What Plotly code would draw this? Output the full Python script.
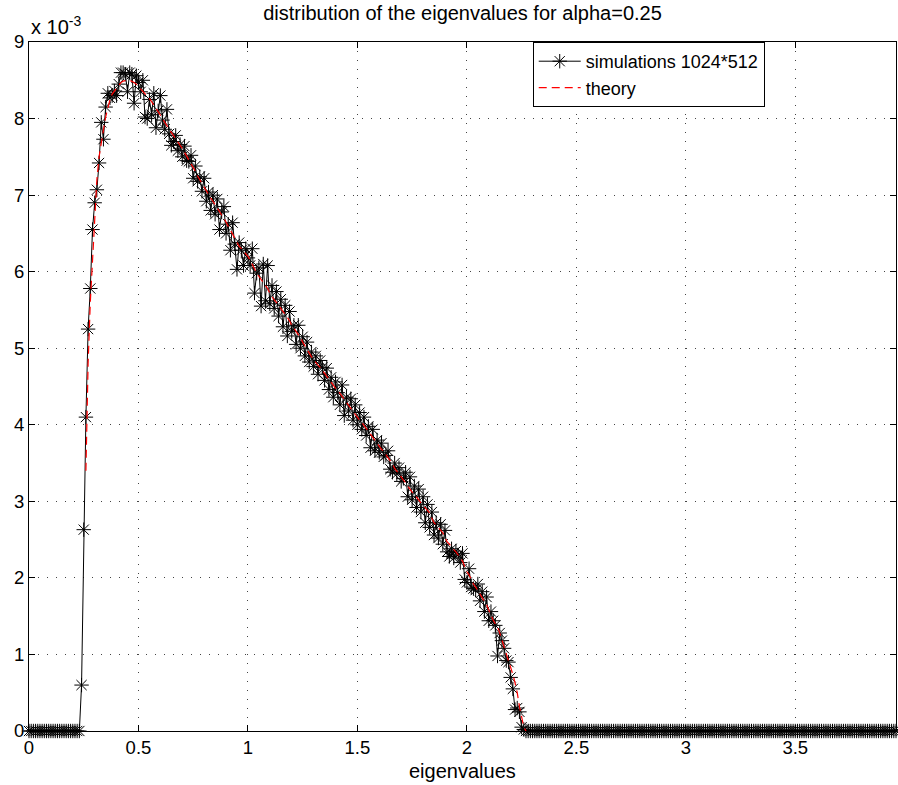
import plotly.graph_objects as go

# ---- data (density values in units of 1e-3) ----
bin_width = 0.01
n_bins = 397                     # bins 0.00 .. 3.96
x_bins = [round(i * bin_width, 2) for i in range(n_bins)]

sim_zeros_left = [0.0] * 24      # 0.00 .. 0.23
sim_support = [                  # 0.24 .. 2.26
    0.6, 2.63, 4.1, 5.25, 5.78, 6.55, 6.9, 7.07, 7.42, 7.95,
    7.73, 8.15, 8.33, 8.27, 8.3, 8.36, 8.3, 8.45, 8.6, 8.6,
    8.58, 8.35, 8.6, 8.58, 8.2, 8.56, 8.47, 8.35, 8.5, 8.02,
    8.0, 8.25, 8.05, 8.33, 7.88, 8.1, 8.3, 7.98, 7.86, 8.12,
    7.8, 7.65, 7.7, 7.78, 7.58, 7.66, 7.5, 7.64, 7.45, 7.44,
    7.52, 7.22, 7.38, 7.18, 7.24, 7.05, 7.22, 6.92, 7.04, 6.8,
    7.0, 6.75, 6.95, 6.55, 6.78, 6.85, 6.5, 6.62, 6.28, 6.64,
    6.36, 6.03, 6.38, 6.28, 6.08, 6.3, 6.18, 6.08, 6.3, 5.72,
    5.98, 6.05, 5.55, 6.1, 5.62, 6.08, 5.58, 5.82, 5.52, 5.74,
    5.42, 5.64, 5.28, 5.56, 5.16, 5.48, 5.22, 5.3, 5.05, 5.3,
    5.0, 5.15, 4.9, 5.08, 4.82, 4.95, 4.76, 4.9, 4.66, 4.84,
    4.75, 4.58, 4.74, 4.46, 4.62, 4.36, 4.56, 4.42, 4.26, 4.52,
    4.12, 4.36, 4.18, 4.34, 4.06, 4.26, 4.0, 4.16, 3.94, 4.1,
    3.86, 3.98, 3.7, 3.94, 3.66, 3.8, 3.64, 3.76, 3.58, 3.6,
    3.66, 3.42, 3.38, 3.5, 3.36, 3.44, 3.26, 3.3, 3.38, 3.06,
    3.32, 3.02, 3.2, 2.92, 3.16, 2.86, 3.06, 2.72, 2.96, 2.66,
    2.86, 2.56, 2.72, 2.52, 2.7, 2.44, 2.62, 2.34, 2.28, 2.38,
    2.26, 2.35, 2.3, 2.2, 2.32, 1.98, 1.94, 2.12, 1.88, 1.86,
    1.84, 1.92, 1.7, 1.82, 1.56, 1.75, 1.44, 1.56, 1.44, 1.38,
    0.98, 1.28, 1.18, 1.08, 0.92, 0.9, 0.7, 0.55, 0.28, 0.3,
    0.25, 0.05, 0.02,
]
sim_zeros_right = [0.0] * 170    # 2.27 .. 3.96
sim_values = sim_zeros_left + sim_support + sim_zeros_right

theory_start_bin = 26            # theory drawn from 0.26 .. 2.27
theory_values = [
    3.4, 4.8, 5.6, 6.2, 6.75, 7.2, 7.5, 7.65, 7.85, 8.02,
    8.15, 8.25, 8.32, 8.36, 8.4, 8.44, 8.47, 8.49, 8.5, 8.5,
    8.5, 8.49, 8.47, 8.45, 8.42, 8.39, 8.36, 8.33, 8.3, 8.26,
    8.22, 8.17, 8.13, 8.09, 8.04, 8.0, 7.95, 7.91, 7.86, 7.82,
    7.78, 7.74, 7.69, 7.65, 7.61, 7.56, 7.51, 7.46, 7.41, 7.37,
    7.31, 7.25, 7.2, 7.15, 7.1, 7.05, 7.0, 6.96, 6.92, 6.87,
    6.83, 6.78, 6.74, 6.7, 6.64, 6.58, 6.54, 6.49, 6.44, 6.38,
    6.33, 6.3, 6.27, 6.24, 6.2, 6.15, 6.09, 6.04, 5.98, 5.94,
    5.9, 5.86, 5.82, 5.78, 5.72, 5.67, 5.63, 5.6, 5.56, 5.53,
    5.49, 5.45, 5.41, 5.36, 5.3, 5.26, 5.22, 5.18, 5.14, 5.08,
    5.03, 4.98, 4.93, 4.89, 4.85, 4.81, 4.78, 4.75, 4.71, 4.67,
    4.63, 4.59, 4.55, 4.51, 4.48, 4.44, 4.41, 4.37, 4.34, 4.3,
    4.26, 4.22, 4.18, 4.14, 4.1, 4.06, 4.03, 3.99, 3.95, 3.91,
    3.87, 3.84, 3.8, 3.76, 3.72, 3.68, 3.65, 3.61, 3.57, 3.53,
    3.49, 3.43, 3.4, 3.36, 3.32, 3.28, 3.23, 3.19, 3.16, 3.12,
    3.09, 3.06, 3.02, 2.98, 2.95, 2.91, 2.88, 2.85, 2.78, 2.72,
    2.69, 2.66, 2.62, 2.59, 2.53, 2.47, 2.44, 2.4, 2.37, 2.34,
    2.3, 2.26, 2.22, 2.15, 2.08, 2.04, 1.97, 1.92, 1.88, 1.83,
    1.79, 1.75, 1.7, 1.65, 1.58, 1.51, 1.45, 1.4, 1.36, 1.28,
    1.19, 1.1, 1.02, 0.95, 0.84, 0.74, 0.63, 0.5, 0.32, 0.18,
    0.05, 0.0,
]
theory_x = x_bins[theory_start_bin:theory_start_bin + len(theory_values)]

x_ticks = [0, 0.5, 1, 1.5, 2, 2.5, 3, 3.5]
x_tick_labels = ["0", "0.5", "1", "1.5", "2", "2.5", "3", "3.5"]
y_ticks = [0, 1, 2, 3, 4, 5, 6, 7, 8, 9]
y_tick_labels = [str(v) for v in y_ticks]

FONT = "Liberation Sans, Arial, Helvetica, sans-serif"
TXT = 20
TICK = 18.5

fig = go.Figure()
fig.add_trace(go.Scatter(
    x=x_bins, y=sim_values, mode="lines+markers",
    name="simulations 1024*512",
    line=dict(color="black", width=1),
    marker=dict(symbol="asterisk-open", size=12, color="black",
                line=dict(color="black", width=1)),
    cliponaxis=False,
))
fig.add_trace(go.Scatter(
    x=theory_x, y=theory_values, mode="lines",
    name="theory",
    line=dict(color="red", width=1.2, dash="8px,5px"),
    cliponaxis=False,
))

axis_common = dict(
    showline=True, linecolor="black", linewidth=1, mirror="ticks",
    ticks="inside", ticklen=6, tickcolor="black",
    showgrid=True, gridcolor="#444", gridwidth=1, griddash="1px,8px",
    zeroline=False, automargin=False,
    tickfont=dict(family=FONT, size=TICK, color="black"),
)

fig.update_layout(
    width=898, height=785,
    margin=dict(l=29, r=2, t=42, b=54, autoexpand=False),
    paper_bgcolor="white", plot_bgcolor="white",
    font=dict(family=FONT, size=TXT, color="black"),
    title=dict(text="distribution of the eigenvalues for alpha=0.25",
               x=0.5, xanchor="center", xref="paper",
               y=1 - 13 / 785, yref="container", yanchor="middle",
               font=dict(family=FONT, size=TXT, color="black")),
    xaxis=dict(range=[0, 3.96], tickvals=x_ticks, ticktext=x_tick_labels,
               **axis_common),
    yaxis=dict(range=[0, 9], tickvals=y_ticks, ticktext=y_tick_labels,
               **axis_common),
    legend=dict(x=0.581, y=1, xanchor="left", yanchor="top",
                bgcolor="white", bordercolor="black", borderwidth=1,
                font=dict(family=FONT, size=18, color="black"),
                itemwidth=42, tracegroupgap=0),
    showlegend=True,
    annotations=[
        dict(text="x 10<sup>-3</sup>", xref="paper", yref="paper",
             x=0, y=1, xanchor="left", yanchor="bottom", yshift=2,
             showarrow=False,
             font=dict(family=FONT, size=TXT, color="black")),
        dict(text="eigenvalues", xref="paper", yref="paper",
             x=0.5, y=0, xanchor="center", yanchor="middle", yshift=-40,
             showarrow=False,
             font=dict(family=FONT, size=TXT, color="black")),
    ],
)

fig.write_html(
    "out.html",
    config={"displayModeBar": False},
    post_script="document.body.style.margin='0';document.body.style.overflow='hidden';",
)
